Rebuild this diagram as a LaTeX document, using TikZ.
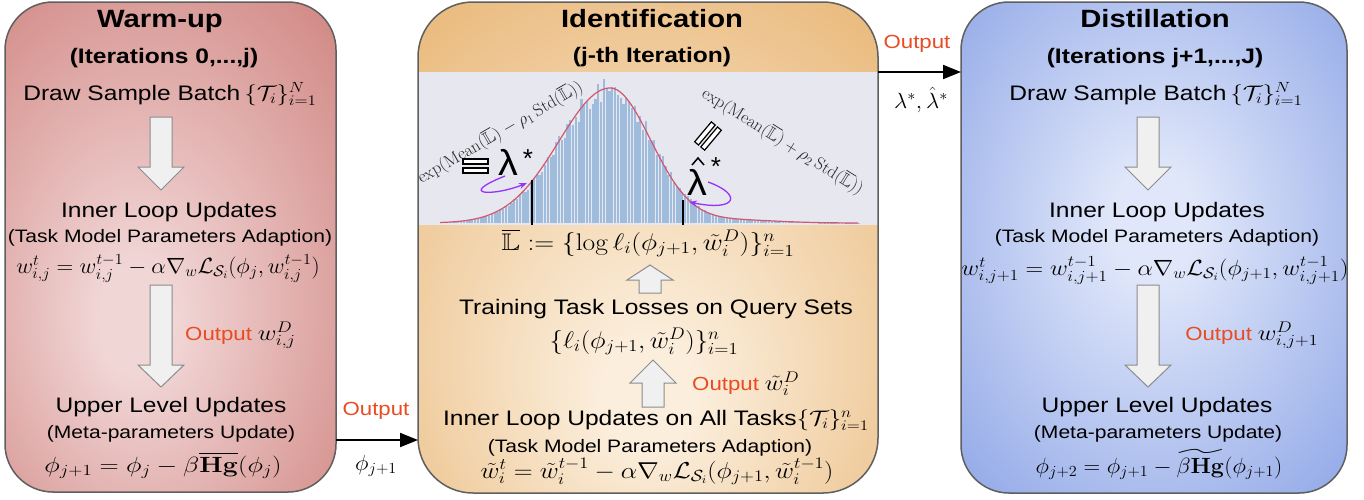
\documentclass[tikz,border=0pt]{standalone}
\usepackage{fix-cm}
\usepackage{amsmath,amssymb}
\usepackage[no-math]{fontspec}
\newfontfamily\sansf{Liberation Sans}
\usetikzlibrary{arrows.meta}

\definecolor{warmin}{RGB}{241,214,214}
\definecolor{warmout}{RGB}{196,104,98}
\definecolor{identin}{RGB}{251,238,220}
\definecolor{identout}{RGB}{228,168,92}
\definecolor{distin}{RGB}{224,231,250}
\definecolor{distout}{RGB}{106,137,222}
\definecolor{bandgray}{RGB}{231,231,239}
\definecolor{histblue}{RGB}{160,188,220}
\definecolor{bellred}{RGB}{210,88,112}
\definecolor{outred}{RGB}{232,76,34}
\definecolor{loopviolet}{RGB}{150,50,250}
\definecolor{panelline}{RGB}{95,95,95}
\definecolor{blockfill}{RGB}{240,240,240}
\definecolor{blockline}{RGB}{140,140,140}

\pgfdeclareradialshading{warmglow}{\pgfpoint{-4bp}{-6bp}}{color(0bp)=(warmin); color(4bp)=(warmin); color(38bp)=(warmout); color(50bp)=(warmout)}
\pgfdeclareradialshading{identglow}{\pgfpoint{0bp}{-12bp}}{color(0bp)=(identin); color(4bp)=(identin); color(38bp)=(identout); color(50bp)=(identout)}
\pgfdeclareradialshading{distglow}{\pgfpoint{0bp}{2bp}}{color(0bp)=(distin); color(4bp)=(distin); color(38bp)=(distout); color(50bp)=(distout)}

% hollow block arrow: centre x, tail y, head base y, tip y
\newcommand{\blockarrow}[4]{%
  \filldraw[blockarrow] (#1-11,#2) -- (#1+11,#2) -- (#1+11,#3) -- (#1+23,#3)
    -- (#1,#4) -- (#1-23,#3) -- (#1-11,#3) -- cycle;}

% shaded rounded panel
\newcommand{\shadepanel}[3]{%
  \begin{scope}
    \clip[rounded corners=#3] (#1.south west) rectangle (#1.north east);
    \shade[shading=#2] ([xshift=-70pt,yshift=-90pt]#1.south west)
      rectangle ([xshift=70pt,yshift=90pt]#1.north east);
  \end{scope}}

% math set at the equation size inside a label
\newcommand{\eqsize}{\fontsize{22}{25}\selectfont}

\begin{document}
\begin{tikzpicture}[x=1pt,y=-1pt,
  declare function={bell(\x)=(\x<610)*135*exp(-0.5*((\x-610)/51)^2)
     +(\x>=610)*(135*exp(-0.5*((\x-610)/41)^2)+3*exp(-((\x-735)/60)^2));},
  panelbox/.style={rectangle, inner sep=0pt, outer sep=0pt},
  paneledge/.style={draw=panelline, line width=1.5pt},
  blockarrow/.style={fill=blockfill, draw=blockline, line width=1pt},
  stretch/.style={xscale=1.17},
  ttl/.style={stretch, font=\sansf\bfseries\fontsize{25}{28}\selectfont, anchor=base, inner sep=0pt},
  sub/.style={stretch, font=\sansf\bfseries\fontsize{21}{24}\selectfont, anchor=base, inner sep=0pt},
  txt/.style={stretch, font=\sansf\fontsize{21}{24}\selectfont, anchor=base, inner sep=0pt},
  small/.style={stretch, font=\sansf\fontsize{18}{21}\selectfont, anchor=base, inner sep=0pt},
  eq/.style={xscale=1.05, font=\eqsize, anchor=base, inner sep=0pt},
  bigeq/.style={font=\fontsize{24}{27}\selectfont, anchor=base, inner sep=0pt},
  outlbl/.style={stretch, font=\sansf\fontsize{19}{22}\selectfont, anchor=base west, inner sep=0pt},
  outword/.style={stretch, font=\sansf\fontsize{19}{22}\selectfont, text=outred, anchor=base, inner sep=0pt},
  explbl/.style={font=\fontsize{17.5}{20}\selectfont, text=black!85, inner sep=0pt},
  lam/.style={xscale=1.1, font=\sansf\fontsize{36}{40}\selectfont, anchor=base, inner sep=0pt},
  star/.style={font=\sansf\fontsize{26}{30}\selectfont, anchor=base, inner sep=0pt},
  hollowbar/.style={fill=white, draw=black, line width=1.2pt},
  cutline/.style={draw=black, line width=2pt},
  curl/.style={draw=loopviolet, line width=1.3pt, -{Stealth[length=8pt,width=6pt]}},
  flow/.style={draw=black, line width=2pt, -{Triangle[length=18pt,width=14pt]}}
]
\useasboundingbox (0,0) rectangle (1364,499);
\fill[white] (0,0) rectangle (1364,499);

% ---------- panels ----------
\node[panelbox, minimum width=331pt, minimum height=490pt] (warm) at (170.5,247) {};
\node[panelbox, minimum width=460pt, minimum height=491pt] (ident) at (648,247.5) {};
\node[panelbox, minimum width=386pt, minimum height=491pt] (dist) at (1154,247.5) {};

\shadepanel{warm}{warmglow}{48pt}
\shadepanel{dist}{distglow}{48pt}
\begin{scope}
  \clip[rounded corners=55pt] (ident.south west) rectangle (ident.north east);
  \shade[shading=identglow] ([xshift=-70pt,yshift=-90pt]ident.south west)
    rectangle ([xshift=70pt,yshift=90pt]ident.north east);
  \fill[bandgray] (400,72) rectangle (900,225);
\end{scope}

% ---------- histogram of log losses ----------
\pgfmathsetseed{12}
\foreach \k in {0,...,147}{
  \pgfmathsetmacro{\xa}{446+2.8*\k}
  \pgfmathsetmacro{\hb}{bell(\xa)*(1+0.09*rand)}
  \fill[histblue] (\xa,223) rectangle ({\xa+2.2},{223-\hb});
}
\draw[bellred, line width=1.2pt] plot[domain=440:858, samples=140, smooth] (\x,{223-bell(\x)});

\coordinate (cutL) at (532,180);
\coordinate (cutR) at (683,200);
\draw[cutline] (532,225) -- (cutL);
\draw[cutline] (683,225) -- (cutR);

% lower threshold label
\node[explbl, rotate=30] (expL) at (500,132)
  {$\exp(\mathrm{Mean}(\overline{\mathbb{L}})-\rho_1\,\mathrm{Std}(\overline{\mathbb{L}}))$};
\filldraw[hollowbar] (463,159) rectangle (488,164);
\filldraw[hollowbar] (463,168) rectangle (488,173);
\node[lam] (lamL) at (508,175) {λ};
\node[star] (starL) at (528,167) {*};
\coordinate (curlLs) at (505,176);
\coordinate (curlLe) at (527,183);
\draw[curl] (curlLs) .. controls (455,196) and (495,196) .. (curlLe);

% upper threshold label
\node[explbl, rotate=-32] (expR) at (783,141)
  {$\exp(\mathrm{Mean}(\overline{\mathbb{L}})+\rho_2\,\mathrm{Std}(\overline{\mathbb{L}}))$};
\begin{scope}[shift={(708,136)}, rotate=50]
  \filldraw[hollowbar] (-13,-6.5) rectangle (13,-1.5);
  \filldraw[hollowbar] (-13,1.5) rectangle (13,6.5);
\end{scope}
\node[lam] (lamR) at (697,195) {λ};
\draw[black, line width=1.5pt] (692,165) -- (698,158) -- (704,165);
\node[star] (starR) at (716,175) {*};
\coordinate (curlRs) at (708,182);
\coordinate (curlRe) at (689,202);
\draw[curl] (curlRs) .. controls (742,194) and (738,212) .. (curlRe);

% panel outlines
\draw[paneledge, rounded corners=48pt] (warm.south west) rectangle (warm.north east);
\draw[paneledge, rounded corners=55pt] (ident.south west) rectangle (ident.north east);
\draw[paneledge, rounded corners=48pt] (dist.south west) rectangle (dist.north east);

% ---------- warm-up ----------
\node[ttl] (wT) at (160,27) {Warm-up};
\node[sub] (wS) at (164,63) {(Iterations 0,...,j)};
\node[txt] (wDraw) at (170,100) {Draw Sample Batch$\,\{\mathcal{T}_i\}_{i=1}^N$};
\blockarrow{161}{117}{167}{190}
\node[txt] (wInner) at (169,217) {Inner Loop Updates};
\node[small] (wTask) at (170,242) {(Task Model Parameters Adaption)};
\node[eq] (wEq) at (168,273) {$w^t_{i,j}=w^{t-1}_{i,j}-\alpha\nabla_w\mathcal{L}_{\mathcal{S}_i}(\phi_j,w^{t-1}_{i,j})$};
\blockarrow{161}{285}{365}{387}
\node[outlbl] (wOut) at (185,340) {{\color{outred}Output}\hspace{5pt}{\eqsize$w^D_{i,j}$}};
\node[txt] (wUpper) at (171,412) {Upper Level Updates};
\node[small] (wMeta) at (171,438) {(Meta-parameters Update)};
\node[eq, xscale=1.15] (wPhi) at (163,472) {$\phi_{j+1}=\phi_j-\beta\overline{\mathbf{Hg}}(\phi_j)$};

% ---------- identification ----------
\node[ttl] (iT) at (652,27) {Identification};
\node[sub] (iS) at (652,62) {(j-th Iteration)};
\node[bigeq, xscale=1.15] (iL) at (648,250) {$\overline{\mathbb{L}}:=\{\log\ell_i(\phi_{j+1},\tilde{w}^D_i)\}_{i=1}^n$};
\blockarrow{650}{293}{280}{265}
\node[txt] (iTrain) at (656,314) {Training Task Losses on Query Sets};
\node[bigeq, xscale=1.11] (iLoss) at (644,348) {$\{\ell_i(\phi_{j+1},\tilde{w}^D_i)\}_{i=1}^n$};
\blockarrow{653}{407}{383}{360}
\node[outlbl] (iOut) at (692,390) {{\color{outred}Output}\hspace{5pt}{\eqsize$\tilde{w}^D_i$}};
\node[txt] (iInner) at (656,425) {Inner Loop Updates on All Tasks$\{\mathcal{T}_i\}_{i=1}^n$};
\node[small] (iTask) at (650,452) {(Task Model Parameters Adaption)};
\node[eq, font=\fontsize{23}{26}\selectfont, xscale=1.08] (iEq) at (657,478) {$\tilde{w}^t_i=\tilde{w}^{t-1}_i-\alpha\nabla_w\mathcal{L}_{\mathcal{S}_i}(\phi_{j+1},\tilde{w}^{t-1}_i)$};

% ---------- distillation ----------
\node[ttl] (dT) at (1155,27) {Distillation};
\node[sub] (dS) at (1155,63) {(Iterations j+1,...,J)};
\node[txt] (dDraw) at (1156,100) {Draw Sample Batch$\,\{\mathcal{T}_i\}_{i=1}^N$};
\blockarrow{1148}{117}{167}{190}
\node[txt] (dInner) at (1157,217) {Inner Loop Updates};
\node[small] (dTask) at (1157,242) {(Task Model Parameters Adaption)};
\node[eq, xscale=1.06] (dEq) at (1155,275) {$w^t_{i,j+1}=w^{t-1}_{i,j+1}-\alpha\nabla_w\mathcal{L}_{\mathcal{S}_i}(\phi_{j+1},w^{t-1}_{i,j+1})$};
\blockarrow{1148}{285}{365}{387}
\node[outlbl] (dOut) at (1185,340) {{\color{outred}Output}\hspace{5pt}{\eqsize$w^D_{i,j+1}$}};
\node[txt] (dUpper) at (1157,412) {Upper Level Updates};
\node[small] (dMeta) at (1158,438) {(Meta-parameters Update)};
\node[eq] (dPhi) at (1159,473) {$\phi_{j+2}=\phi_{j+1}-\widetilde{\beta\mathbf{Hg}}(\phi_{j+1})$};

% ---------- hand-over arrows ----------
\coordinate (rowA) at (0,440);
\coordinate (rowB) at (0,72);
\draw[flow] (warm.east |- rowA) -- (ident.west |- rowA);
\node[outword] (oA) at (376,415) {Output};
\node[eq] (phiA) at (376,470) {$\phi_{j+1}$};
\draw[flow] (ident.east |- rowB) -- (dist.west |- rowB);
\node[outword] (oB) at (917,48) {Output};
\node[eq] (lamB) at (921,108) {$\lambda^*,\hat{\lambda}^*$};
\end{tikzpicture}
\end{document}
